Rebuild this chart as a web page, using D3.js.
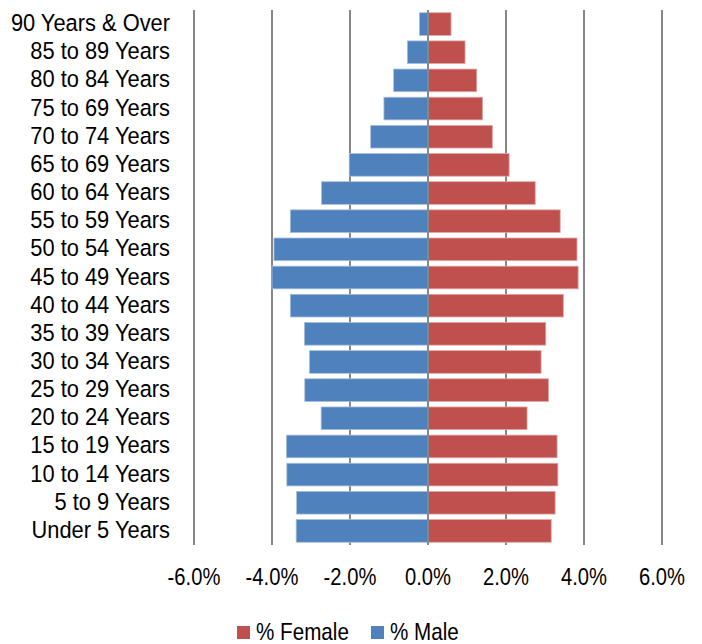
<!DOCTYPE html>
<html>
<head>
<meta charset="utf-8">
<script src="https://cdn.jsdelivr.net/npm/d3@7"></script>
<style>
  html, body { margin: 0; padding: 0; background: #fff; }
  svg { display: block; }
  text { font-family: "Liberation Sans", Arial, sans-serif; fill: #000; }
</style>
</head>
<body>
<svg id="chart" width="702" height="644"></svg>
<script>
// Age groups, top to bottom
const ageGroups = [
  "90 Years & Over", "85 to 89 Years", "80 to 84 Years", "75 to 69 Years",
  "70 to 74 Years", "65 to 69 Years", "60 to 64 Years", "55 to 59 Years",
  "50 to 54 Years", "45 to 49 Years", "40 to 44 Years", "35 to 39 Years",
  "30 to 34 Years", "25 to 29 Years", "20 to 24 Years", "15 to 19 Years",
  "10 to 14 Years", "5 to 9 Years", "Under 5 Years"
];
// Share of total population (%), males plotted to the left
const malePct = [
  -0.22, -0.53, -0.88, -1.13, -1.47, -2.02, -2.73, -3.53, -3.95, -4.00,
  -3.53, -3.17, -3.04, -3.16, -2.74, -3.63, -3.62, -3.37, -3.38
];
const femalePct = [
  0.59, 0.95, 1.25, 1.40, 1.65, 2.08, 2.75, 3.39, 3.82, 3.85,
  3.47, 3.02, 2.90, 3.09, 2.54, 3.31, 3.33, 3.26, 3.16
];
const xTicks = [-6, -4, -2, 0, 2, 4, 6];
const seriesNames = ["% Female", "% Male"];
const seriesColors = ["#C0504D", "#4F81BD"];

const svg = d3.select("#chart");
const plot = { left: 194, right: 662, top: 10, bottom: 545 };

const x = d3.scaleLinear().domain([-6, 6]).range([plot.left, plot.right]);
const y = d3.scaleBand().domain(ageGroups).range([plot.top, plot.bottom]).paddingInner(0.195).paddingOuter(0.0975);

// Condensed text: regular face squeezed horizontally
function narrowText(sel, xf, yf, sx, size, anchor, fmt) {
  sel.append("g")
    .attr("transform", (d, i) => `translate(${xf(d, i)},${yf(d, i)}) scale(${sx},1)`)
    .append("text")
    .attr("text-anchor", anchor)
    .attr("font-size", size)
    .text(fmt);
}

// Vertical gridlines
svg.append("g").selectAll("line").data(xTicks.filter(d => d !== 0)).join("line")
  .attr("x1", d => x(d)).attr("x2", d => x(d))
  .attr("y1", plot.top).attr("y2", plot.bottom)
  .attr("stroke", "#878787").attr("stroke-width", 2);

// Bars
const bars = svg.append("g");
bars.selectAll("rect.male").data(ageGroups).join("rect").attr("class", "male")
  .attr("x", (d, i) => x(malePct[i])).attr("width", (d, i) => x(0) - x(malePct[i]))
  .attr("y", d => y(d)).attr("height", y.bandwidth())
  .attr("fill", seriesColors[1]).attr("stroke", "#a7bfdd").attr("stroke-width", 0.8);
bars.selectAll("rect.female").data(ageGroups).join("rect").attr("class", "female")
  .attr("x", x(0)).attr("width", (d, i) => x(femalePct[i]) - x(0))
  .attr("y", d => y(d)).attr("height", y.bandwidth())
  .attr("fill", seriesColors[0]).attr("stroke", "#e0a8a6").attr("stroke-width", 0.8);

// Zero axis line on top of the bars
svg.append("line")
  .attr("x1", x(0)).attr("x2", x(0)).attr("y1", plot.top).attr("y2", plot.bottom)
  .attr("stroke", "#878787").attr("stroke-width", 2);

// Category labels
const catG = svg.append("g").selectAll("g.cat").data(ageGroups).join("g").attr("class", "cat");
narrowText(catG, () => 170, d => y(d) + y.bandwidth() / 2 + 7, 0.93, 23.5, "end", d => d);

// X tick labels
const fmtPct = d => d3.format(".1f")(d).replace("\u2212", "-") + "%";
const tickG = svg.append("g").selectAll("g.tick").data(xTicks).join("g").attr("class", "tick");
narrowText(tickG, d => x(d), () => 585, 0.86, 23.5, "middle", fmtPct);

// Legend
const legendX = [237, 371];
const legG = svg.append("g").selectAll("g.leg").data(seriesNames).join("g").attr("class", "leg");
legG.append("rect")
  .attr("x", (d, i) => legendX[i]).attr("y", 626).attr("width", 13).attr("height", 13)
  .attr("fill", (d, i) => seriesColors[i]);
narrowText(legG, (d, i) => legendX[i] + 19, () => 640, 0.86, 24, "start", d => d);
</script>
</body>
</html>
